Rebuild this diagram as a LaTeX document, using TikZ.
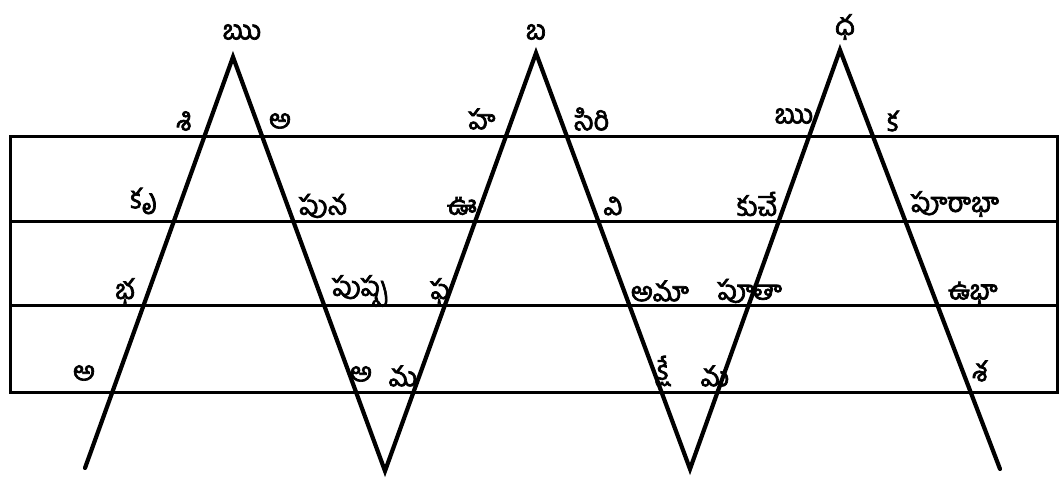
\documentclass[tikz,border=0pt]{standalone}
\usepackage{fontspec}
\newfontfamily\tel[Script=Telugu,FakeBold=2.5]{Hind Guntur}
\begin{document}
\begin{tikzpicture}[x=1pt,y=-1pt,
  zig/.style={line width=4.2pt,line cap=round,line join=miter},
  rule/.style={line width=3pt},
  lab/.style={font=\tel\fontsize{27}{30}\selectfont,inner sep=0pt,anchor=center}]
\useasboundingbox (0,0) rectangle (1061,481);
% table
\coordinate (TL) at (10,137);
\coordinate (BR) at (1057,392);
\coordinate (L2) at (10,222);
\coordinate (R2) at (1057,222);
\coordinate (L3) at (10,306);
\coordinate (R3) at (1057,306);
\draw[rule] (TL) rectangle (BR);
\draw[rule] (L2) -- (R2);
\draw[rule] (L3) -- (R3);
% zigzag
\coordinate (P0) at (85,468);
\coordinate (P1) at (233,57);
\coordinate (P2) at (385,471);
\coordinate (P3) at (536,53);
\coordinate (P4) at (690,469);
\coordinate (P5) at (840,50);
\coordinate (P6) at (1000,469);
\draw[zig] (P0) -- (P1) -- (P2) -- (P3) -- (P4) -- (P5) -- (P6);
% peak labels
\node[lab] (k1) at (242,32) {ఋ};
\node[lab] (k2) at (536,32) {బ};
\node[lab] (k3) at (845,27) {ధ};
% row 1
\node[lab] (a1) at (184,121) {శి};
\node[lab] (a2) at (280,121) {అ};
\node[lab] (a3) at (482,119) {హ};
\node[lab] (a4) at (592,119) {సిరి};
\node[lab] (a5) at (794,116) {ఋ};
\node[lab] (a6) at (893,121) {క};
% row 2
\node[lab] (b1) at (144,201) {కృ};
\node[lab] (b2) at (323,206) {పున};
\node[lab] (b3) at (462,206) {ఊ};
\node[lab] (b4) at (613,206) {వి};
\node[lab] (b5) at (757,204) {కుచే};
\node[lab] (b6) at (955,204) {పూరాభా};
% row 3
\node[lab] (c1) at (125,291) {భ};
\node[lab] (c2) at (360,291) {పుష్ప};
\node[lab] (c3) at (440,291) {ఫ};
\node[lab] (c4) at (660,291) {అమా};
\node[lab] (c5) at (750,291) {పూతా};
\node[lab] (c6) at (973,293) {ఉభా};
% row 4
\node[lab] (d1) at (84,373) {అ};
\node[lab] (d2) at (361,374) {అ};
\node[lab] (d3) at (403,376) {మ};
\node[lab] (d4) at (663,371) {క్షే};
\node[lab] (d5) at (715,376) {మ};
\node[lab] (d6) at (980,371) {శ};
\end{tikzpicture}
\end{document}
